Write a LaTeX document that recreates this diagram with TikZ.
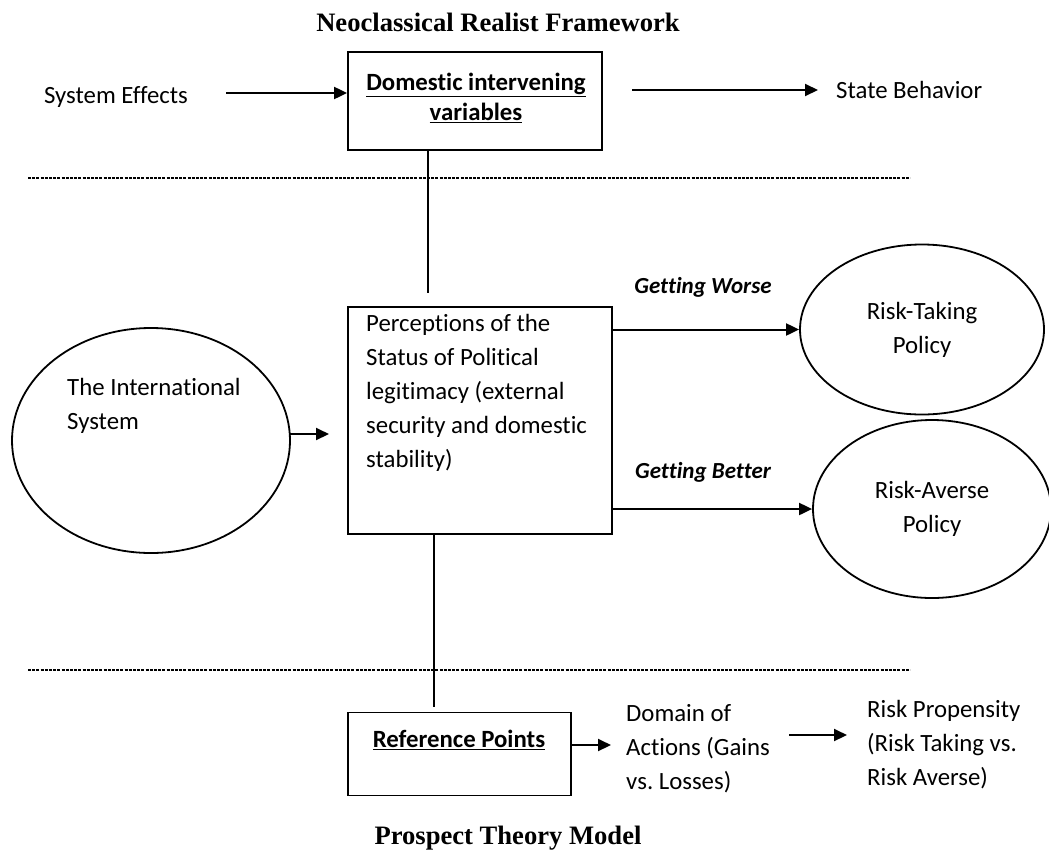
\documentclass[tikz,border=0pt]{standalone}
\usepackage{fontspec}
\setmainfont[Ligatures={NoCommon,NoContextual}]{Carlito}
\newfontfamily\titlefont{Liberation Serif}
\usetikzlibrary{arrows.meta,shapes.geometric}
\frenchspacing
\begin{document}
\begin{tikzpicture}[x=1pt,y=-1pt,
  every node/.style={font=\fontsize{24.8}{34}\selectfont, inner sep=0pt},
  ttl/.style={font=\titlefont\bfseries\fontsize{26.6}{30}\selectfont},
  boxx/.style={draw, line width=1.8pt},
  ell/.style={draw, ellipse, line width=1.8pt},
  arr/.style={line width=2pt, -{Triangle[length=13pt,width=12pt]}},
  ln/.style={line width=1.8pt},
  sep/.style={line width=2.8pt, dash pattern=on 3pt off 1.2pt},
  lbl/.style={font=\bfseries\itshape\fontsize{23}{26}\selectfont}
]
\useasboundingbox (0,0) rectangle (1049,855);
\fill[white] (0,0) rectangle (1049,855);

% titles
\node[ttl] (t1) at (498,22) {Neoclassical Realist Framework};
\node[ttl] (t2) at (508,838) {Prospect Theory Model};

% top row
\node (sys) at (116,97) {System Effects};
\node[boxx, minimum width=254pt, minimum height=98pt] (b1) at (475,101) {};
\node[align=center, font=\bfseries\fontsize{24.8}{30}\selectfont] (b1t) at (476,98) {\underline{Domestic intervening}\\\underline{variables}};
\node[anchor=west] (state) at (836,90) {State Behavior};
\coordinate (a1s) at (226,93);
\coordinate (a2s) at (632,90);
\coordinate (a2e) at (818,90);
\draw[arr] (a1s) -- (a1s -| b1.west);
\draw[arr] (a2s) -- (a2e);

% separators
\coordinate (s1a) at (28,178);
\coordinate (s1b) at (910,178);
\coordinate (s2a) at (28,670);
\coordinate (s2b) at (910,670);
\draw[sep] (s1a) -- (s1b);
\draw[sep] (s2a) -- (s2b);

% middle
\node[boxx, minimum width=264pt, minimum height=227pt] (b2) at (480,420.5) {};
\node[anchor=north west, align=left] (b2t) at (366,314) {Perceptions of the\\Status of Political\\legitimacy (external\\security and domestic\\stability)};
\node[ell, minimum width=278pt, minimum height=225pt] (intl) at (151,440.5) {};
\node[anchor=north west, align=left] (intlt) at (67,378) {The International\\System};
\coordinate (a3s) at (290,434);
\coordinate (a3e) at (329,434);
\draw[arr] (a3s) -- (a3e);

\coordinate (l1) at (428,293);
\draw[ln] (l1 |- b1.south) -- (l1);
\coordinate (l2) at (434,707);
\draw[ln] (l2 |- b2.south) -- (l2);

\node[ell, minimum width=244pt, minimum height=170pt, align=center] (rt) at (922,329.5) {Risk-Taking\\Policy};
\node[ell, minimum width=238pt, minimum height=178pt, align=center] (ra) at (932,509) {Risk-Averse\\Policy};
\draw[arr] (rt.west -| b2.east) -- (rt.west);
\draw[arr] (ra.west -| b2.east) -- (ra.west);
\node[lbl] (gw) at (703,287) {Getting Worse};
\node[lbl] (gb) at (703,472) {Getting Better};

% bottom row
\node[boxx, minimum width=223pt, minimum height=83pt] (b3) at (459.5,754) {};
\node[font=\bfseries\fontsize{24.8}{30}\selectfont] (b3t) at (459,740) {\underline{Reference Points}};
\node[anchor=north west, align=left] (dom) at (626,704) {Domain of\\Actions (Gains\\vs. Losses)};
\node[anchor=north west, align=left] (prop) at (867,700) {Risk Propensity\\(Risk Taking vs.\\Risk Averse)};
\coordinate (a4s) at (571,745);
\coordinate (a4e) at (611,745);
\draw[arr] (a4s) -- (a4e);
\coordinate (a5s) at (789,735);
\coordinate (a5e) at (847,735);
\draw[arr] (a5s) -- (a5e);
\end{tikzpicture}
\end{document}
